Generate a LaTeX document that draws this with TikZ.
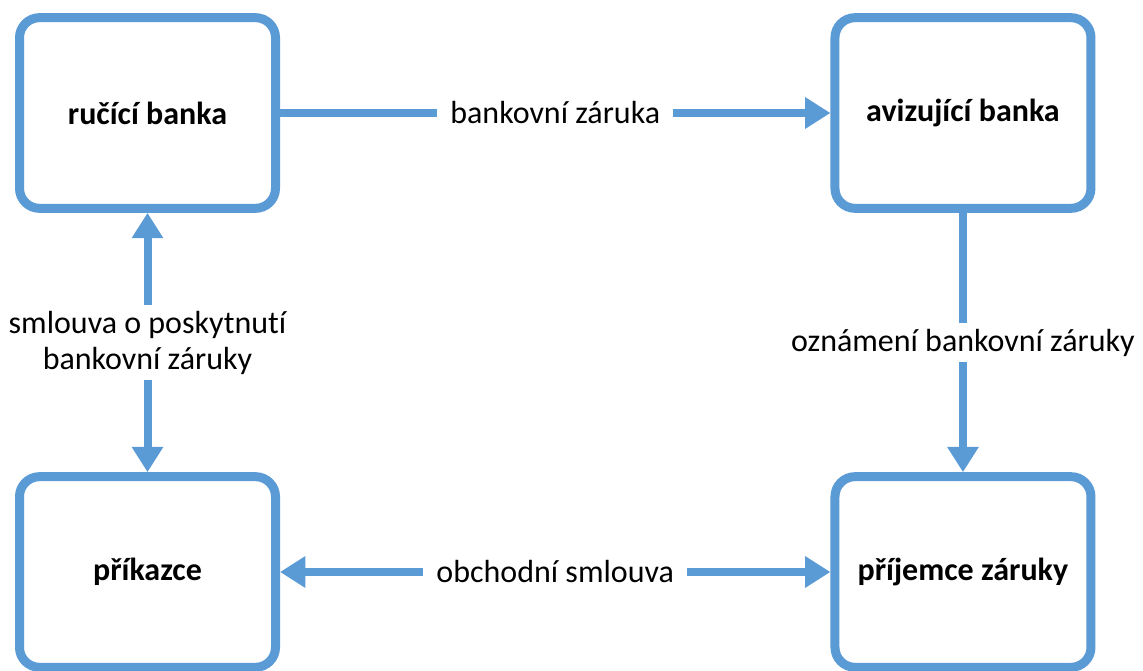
\documentclass[tikz,border=0pt]{standalone}
\usepackage{fontspec}
\setmainfont{Carlito}[Ligatures=NoCommon]
\usetikzlibrary{arrows.meta, positioning}
\definecolor{accentblue}{RGB}{91, 155, 213}
\tikzset{
    boxnode/.style = {draw=accentblue, rectangle, rounded corners=15pt, line width=6.75pt, fill=white,
      minimum width=192pt, minimum height=143pt, node distance=0em, font=\bfseries\fontsize{24}{29}\selectfont},
    labelnode/.style = {draw=none, fill=white, text=black, rectangle, inner xsep=10pt, inner ysep=4pt,
      font=\fontsize{24}{27}\selectfont},
    connect/.style = {accentblue, line width=6pt, -{Triangle[length=19pt, width=22.5pt]}},
    twoway/.style = {accentblue, line width=6pt, {Triangle[length=19pt, width=22.5pt]}-{Triangle[length=19pt, width=22.5pt]}},
    every text node part/.style={align=center}
}

\begin{document}
\begin{tikzpicture}[x=0.75pt, y=-0.75pt]
\useasboundingbox (0,0) rectangle (1143,671);

\node[boxnode, name=guarantor] at (147.5,113) {ručící banka};
\node[boxnode, name=advising, right of = guarantor, xshift=611.6pt] {avizující banka};
\node[boxnode, name=principal, below of = guarantor, yshift=-344.25pt] {příkazce};
\node[boxnode, name=beneficiary, below of = advising, yshift=-344.25pt] {příjemce záruky};

\draw[connect] (guarantor) -- node[labelnode] {bankovní záruka} (advising);
\draw[twoway] (principal) -- node[labelnode] {smlouva o poskytnutí\\bankovní záruky} (guarantor);
\draw[connect] (advising) -- node[labelnode] {oznámení bankovní záruky} (beneficiary);
\draw[twoway] (principal) -- node[labelnode] {obchodní smlouva} (beneficiary);
\end{tikzpicture}
\end{document}
